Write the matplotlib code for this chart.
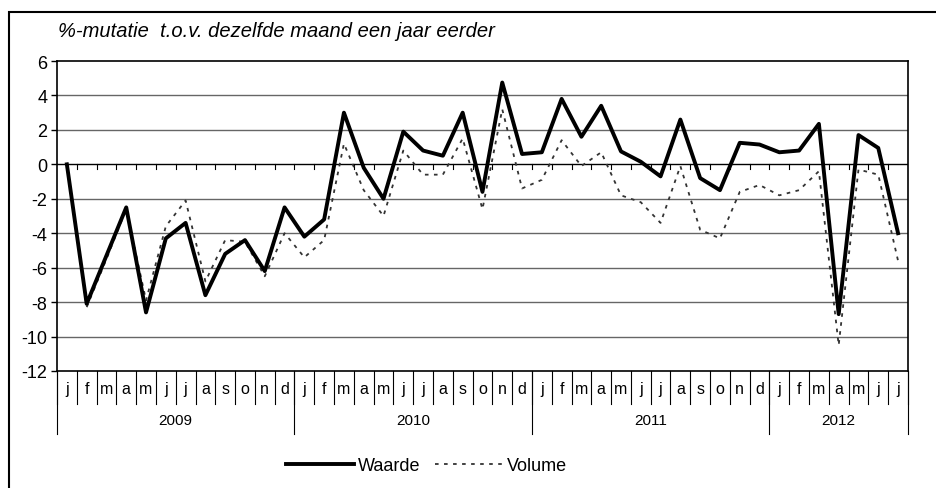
import matplotlib.pyplot as plt
from matplotlib.patches import Rectangle

plt.rcParams['font.family'] = ['Liberation Sans', 'DejaVu Sans']
plt.rcParams['axes.unicode_minus'] = False

# maanden jan 2009 - jul 2012
maanden = list("jfmamjjasond") * 3 + list("jfmamjj")
jaren = ["2009", "2010", "2011", "2012"]
jaar_lengte = [12, 12, 12, 7]

waarde = [0.0, -8.1, -5.3, -2.5, -8.6, -4.3, -3.4, -7.6, -5.2, -4.4, -6.2, -2.5,
          -4.2, -3.2, 3.0, -0.2, -2.0, 1.9, 0.8, 0.5, 3.0, -1.6, 4.75, 0.6,
          0.7, 3.8, 1.6, 3.4, 0.75, 0.15, -0.7, 2.6, -0.8, -1.5, 1.25, 1.15,
          0.7, 0.8, 2.35, -8.7, 1.7, 0.95, -4.0]
volume = [0.0, -8.3, -5.5, -2.6, -7.9, -3.6, -2.1, -6.8, -4.4, -4.5, -6.5, -4.0,
          -5.4, -4.4, 1.2, -1.5, -3.0, 0.8, -0.6, -0.6, 1.5, -2.6, 3.2, -1.4,
          -0.9, 1.4, -0.1, 0.7, -1.8, -2.2, -3.4, -0.1, -3.8, -4.3, -1.6, -1.2,
          -1.8, -1.5, -0.4, -10.5, -0.3, -0.6, -5.6]

fig = plt.figure(figsize=(9.37, 4.89), dpi=100)
ax = fig.add_axes([0.0608, 0.2393, 0.9082, 0.6339])

x = list(range(len(maanden)))
ax.plot(x, waarde, color="black", lw=2.8, label="Waarde", zorder=4)
ax.plot(x, volume, color="#333333", lw=1.3, linestyle=(0, (2, 3)), label="Volume", zorder=3)

ax.set_xlim(-0.5, len(maanden) - 0.5)
ax.set_ylim(-12, 6)
ax.set_yticks(range(-12, 7, 2))
for v in range(-10, 6, 2):
    ax.axhline(v, color="black" if v == 0 else "#666666", lw=1, zorder=1)
ax.tick_params(axis="y", labelsize=13, length=4, width=1, pad=3)
ax.set_xticks([])
for s in ax.spines.values():
    s.set_color("black")
    s.set_linewidth(1.2)

# kleine streepjes op de nullijn
for b in range(1, len(maanden)):
    ax.plot([b - 0.5, b - 0.5], [0, -0.3], color="black", lw=0.8, zorder=2)

# categorie-as onder de grafiek
trans = ax.get_xaxis_transform()
for i, m in enumerate(maanden):
    ax.text(i, -0.055, m, ha="center", va="center", fontsize=11.5, transform=trans, clip_on=False)
for b in range(len(maanden) + 1):
    ax.plot([b - 0.5, b - 0.5], [0, -0.106], color="black", lw=0.8, transform=trans, clip_on=False)
start = 0
for j, n in zip(jaren, jaar_lengte):
    ax.text(start + n / 2 - 0.5, -0.158, j, ha="center", va="center", fontsize=11,
            transform=trans, clip_on=False)
    ax.plot([start - 0.5, start - 0.5], [0, -0.2035], color="black", lw=0.8, transform=trans, clip_on=False)
    start += n
ax.plot([start - 0.5, start - 0.5], [0, -0.2035], color="black", lw=0.8, transform=trans, clip_on=False)

fig.text(0.062, 0.935, "%-mutatie  t.o.v. dezelfde maand een jaar eerder", fontsize=14.5,
         style="italic", va="center", ha="left")

fig.legend(loc="center", bbox_to_anchor=(0.455, 0.045), ncol=2, frameon=False,
           fontsize=13, handlelength=3.8, handletextpad=0.2, columnspacing=0.8)

# kader rond de grafiek
fig.patches.append(Rectangle((0.0096, -0.1), 1.1, 0.9734 + 0.1, transform=fig.transFigure,
                             fill=False, edgecolor="black", lw=1.5))

plt.savefig("out.png", dpi=100)
